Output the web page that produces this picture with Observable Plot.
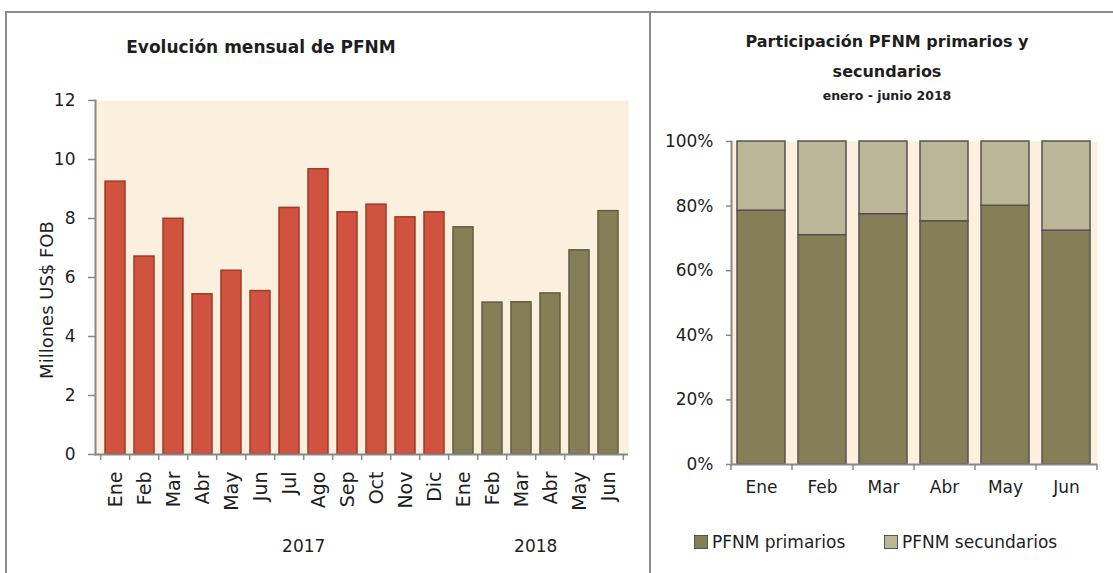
<!DOCTYPE html>
<html><head><meta charset="utf-8">
<script src="https://cdn.jsdelivr.net/npm/d3@7"></script>
<script src="https://cdn.jsdelivr.net/npm/@observablehq/plot@0.6"></script>
<style>
body{margin:0;background:#fff;font-family:"DejaVu Sans",sans-serif;color:#1e1e1e}
#root{position:relative;width:1113px;height:573px;overflow:hidden;background:#fff}
.abs{position:absolute}
.line{position:absolute;background:#8c8c8c}
.title{position:absolute;text-align:center;font-weight:bold;white-space:nowrap}
.sw{position:absolute;width:12px;height:12px;border:1px solid #555}
.lt{position:absolute;font-size:17px;line-height:20px;white-space:nowrap}
.ylab{position:absolute;left:47px;top:300px;font-size:18px;line-height:20px;white-space:nowrap;transform:translate(-50%,-50%) rotate(-90deg)}
svg{overflow:visible}
</style></head>
<body><div id="root">
<div class="line" style="left:5px;top:11px;width:1110px;height:2px"></div>
<div class="line" style="left:5px;top:11px;width:2px;height:570px"></div>
<div class="line" style="left:649px;top:11px;width:2px;height:570px"></div>
<div class="title" style="left:61px;width:400px;top:37px;font-size:17px;line-height:20px">Evolución mensual de PFNM</div>
<div class="title" style="left:687px;width:400px;top:32px;font-size:16px;line-height:20px">Participación PFNM primarios y</div>
<div class="title" style="left:687px;width:400px;top:62px;font-size:16px;line-height:20px">secundarios</div>
<div class="title" style="left:687px;width:400px;top:88px;font-size:12.5px;line-height:16px">enero - junio 2018</div>
<div id="left" class="abs" style="left:0;top:60px"></div>
<div id="right" class="abs" style="left:650px;top:120px"></div>
<div class="ylab">Millones US$ FOB</div>
<div class="sw" style="left:694px;top:535px;background:#857F57"></div>
<div class="lt" style="left:712px;top:532px">PFNM primarios</div>
<div class="sw" style="left:884px;top:535px;background:#BBB698"></div>
<div class="lt" style="left:902px;top:532px">PFNM secundarios</div>
</div>
<script>
// ---- Data: left chart (Millones US$ FOB) ----
const meses2017 = ["Ene","Feb","Mar","Abr","May","Jun","Jul","Ago","Sep","Oct","Nov","Dic"];
const valores2017 = [9.25, 6.71, 7.99, 5.43, 6.23, 5.54, 8.36, 9.67, 8.21, 8.47, 8.04, 8.21];
const meses2018 = ["Ene","Feb","Mar","Abr","May","Jun"];
const valores2018 = [7.70, 5.15, 5.16, 5.46, 6.92, 8.25];
const yTicksLeft = [0, 2, 4, 6, 8, 10, 12];
const anios = ["2017", "2018"];

// ---- Data: right chart (participación %) ----
const mesesPart = ["Ene","Feb","Mar","Abr","May","Jun"];
const primarios = [78.6, 71.0, 77.5, 75.3, 80.1, 72.4];
const secundarios = [21.4, 29.0, 22.5, 24.7, 19.9, 27.6];
const yTicksRight = [0, 20, 40, 60, 80, 100];
const series = ["PFNM primarios", "PFNM secundarios"];

const FONT = '"DejaVu Sans", sans-serif';
const AX = "#888888";

// Left chart
const rows = [
  ...meses2017.map((m, i) => ({key: "2017-" + m, anio: "2017", value: valores2017[i]})),
  ...meses2018.map((m, i) => ({key: "2018-" + m, anio: "2018", value: valores2018[i]}))
];
const keys = rows.map(d => d.key);
const W1 = 650, H1 = 513, ML1 = 95, MR1 = 22, MT1 = 40, MB1 = 119;
const step1 = (W1 - ML1 - MR1) / keys.length;
const innerH1 = H1 - MT1 - MB1;
const yearLabels = [{key: "2017-Ago", label: anios[0]}, {key: "2018-Abr", label: anios[1]}];

const left = Plot.plot({
  width: W1, height: H1, marginLeft: ML1, marginRight: MR1, marginTop: MT1, marginBottom: MB1,
  style: {fontFamily: FONT, fontSize: "17px", color: "#1e1e1e", background: "transparent", overflow: "visible"},
  x: {domain: keys, paddingInner: 0.32, paddingOuter: 0.16, axis: null},
  y: {domain: [0, 12], axis: null},
  marks: [
    Plot.frame({fill: "#FBF0DD", stroke: null}),
    Plot.barY(rows.filter(d => d.anio === "2017"), {x: "key", y: "value", fill: "#CF533F", stroke: "#A03A2A", strokeWidth: 1.5}),
    Plot.barY(rows.filter(d => d.anio === "2018"), {x: "key", y: "value", fill: "#857F57", stroke: "#615D40", strokeWidth: 1.5}),
    Plot.ruleY([0], {stroke: AX, strokeWidth: 2}),
    Plot.frame({anchor: "left", stroke: AX, strokeWidth: 2}),
    Plot.axisY({ticks: yTicksLeft, tickSize: 7, tickPadding: 13, stroke: AX, strokeWidth: 1.5, label: null, fontSize: 17}),
    Plot.axisX({tickSize: 0, tickRotate: -90, tickPadding: 17, tickFormat: k => k.split("-")[1], label: null, fontSize: 19}),
    Plot.tickX(keys, {x: d => d, dx: -step1 / 2, insetTop: innerH1, insetBottom: -6, stroke: AX, strokeWidth: 1.5}),
    Plot.tickX([keys[keys.length - 1]], {x: d => d, dx: step1 / 2, insetTop: innerH1, insetBottom: -6, stroke: AX, strokeWidth: 1.5}),
    Plot.text(yearLabels, {x: "key", text: "label", frameAnchor: "bottom", dx: -step1 / 2, dy: 97, fontSize: 17})
  ]
});
document.getElementById("left").append(left);

// Right chart
const partRows = [];
mesesPart.forEach((m, i) => {
  partRows.push({mes: m, tipo: series[0], value: primarios[i]});
  partRows.push({mes: m, tipo: series[1], value: secundarios[i]});
});
const W2 = 463, H2 = 453, ML2 = 81, MR2 = 16, MT2 = 21, MB2 = 109;
const step2 = (W2 - ML2 - MR2) / mesesPart.length;
const innerH2 = H2 - MT2 - MB2;

const right = Plot.plot({
  width: W2, height: H2, marginLeft: ML2, marginRight: MR2, marginTop: MT2, marginBottom: MB2,
  style: {fontFamily: FONT, fontSize: "17px", color: "#1e1e1e", background: "transparent", overflow: "visible"},
  x: {domain: mesesPart, paddingInner: 0.21, paddingOuter: 0.105, axis: null},
  y: {domain: [0, 100], axis: null},
  color: {domain: series, range: ["#857F57", "#BBB698"]},
  marks: [
    Plot.frame({fill: "#FBF0DD", stroke: null}),
    Plot.barY(partRows, {x: "mes", y: "value", fill: "tipo", stroke: "#5B5252", strokeWidth: 1.5}),
    Plot.ruleY([0], {stroke: AX, strokeWidth: 2}),
    Plot.frame({anchor: "left", stroke: AX, strokeWidth: 2}),
    Plot.axisY({ticks: yTicksRight, tickSize: 5, tickPadding: 13, tickFormat: d => d + "%", stroke: AX, strokeWidth: 1.5, label: null, fontSize: 17}),
    Plot.axisX({tickSize: 0, tickPadding: 16, label: null, fontSize: 17}),
    Plot.tickX(mesesPart, {x: d => d, dx: -step2 / 2, insetTop: innerH2, insetBottom: -6, stroke: AX, strokeWidth: 1.5}),
    Plot.tickX([mesesPart[mesesPart.length - 1]], {x: d => d, dx: step2 / 2, insetTop: innerH2, insetBottom: -6, stroke: AX, strokeWidth: 1.5})
  ]
});
document.getElementById("right").append(right);
</script>
</body></html>
